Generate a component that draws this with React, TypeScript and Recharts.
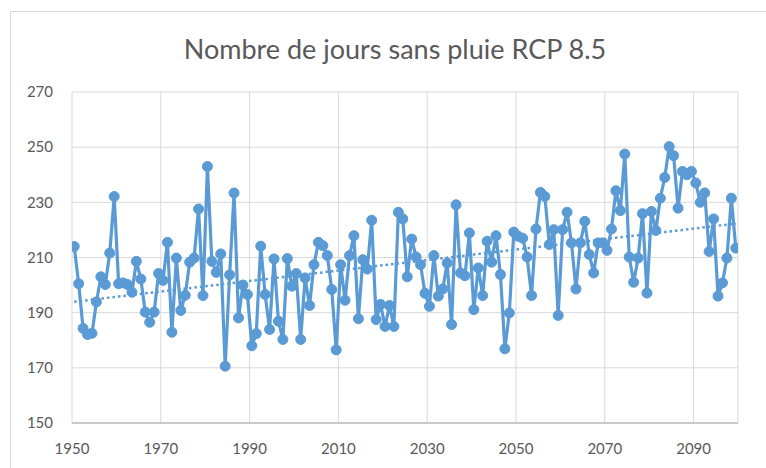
import { LineChart, Line, XAxis, YAxis, CartesianGrid } from "recharts";

// années 1950 -> 2099
const firstYear = 1950;

// nombre de jours sans pluie
const days = [
  214, 200.5, 184.3, 182.1, 182.5, 193.9, 203, 200.2, 211.6, 232.1,
  200.5, 200.8, 200.2, 197.4, 208.6, 202.2, 190.2, 186.5, 190.2, 204.2,
  201.7, 215.5, 182.9, 209.8, 190.8, 196.3, 208.3, 209.8, 227.6, 196.2,
  243, 208.6, 204.6, 211.3, 170.6, 203.7, 233.4, 188.1, 200, 196.6,
  178, 182.4, 214.1, 196.6, 183.9, 209.5, 186.9, 180.3, 209.6, 199.6,
  204.2, 180.3, 202.6, 192.6, 207.4, 215.5, 214.3, 210.7, 198.4, 176.5,
  207.4, 194.5, 210.7, 217.9, 187.8, 209.2, 205.8, 223.5, 187.5, 193,
  185, 192.6, 185, 226.4, 224, 203, 216.7, 210.2, 207.4, 197,
  192.3, 210.7, 196, 198.6, 208, 185.7, 229.1, 204.4, 203.4, 218.9,
  191.1, 206.2, 196.2, 215.9, 208.3, 217.9, 203.8, 176.9, 189.9, 219.2,
  217.7, 217, 210.2, 196.2, 220.3, 233.6, 232.1, 214.7, 220.1, 189,
  220.1, 226.4, 215.3, 198.6, 215.3, 223.1, 211.1, 204.4, 215.3, 215.3,
  212.6, 220.3, 234.2, 227, 247.5, 210.2, 201, 209.8, 225.9, 197.1,
  226.7, 219.8, 231.5, 239, 250.2, 246.9, 227.9, 241.2, 240, 241.2,
  237, 230, 233.4, 212.2, 224, 196, 200.8, 209.8, 231.5, 213.4,
];

const yearTicks = [1950, 1970, 1990, 2010, 2030, 2050, 2070, 2090];
const valueTicks = [150, 170, 190, 210, 230, 250, 270];

const years = days.map((_, i) => firstYear + i);

// tendance linéaire (moindres carrés), comme la courbe de tendance d'Excel
const n = days.length;
const mx = years.reduce((a, b) => a + b, 0) / n;
const my = days.reduce((a, b) => a + b, 0) / n;
let sxy = 0;
let sxx = 0;
years.forEach((x, i) => {
  sxy += (x - mx) * (days[i] - my);
  sxx += (x - mx) * (x - mx);
});
const slope = sxy / sxx;

const data = years.map((year, i) => ({
  year,
  days: days[i],
  trend: my + slope * (year - mx),
}));

const font = "Lato, 'Open Sans', sans-serif";
const blue = "#5B9BD5";
const grey = "#595959";

export default function App() {
  return (
    <div
      style={{
        position: "absolute",
        left: 0,
        top: 0,
        width: 766,
        height: 468,
        background: "#fff",
        overflow: "hidden",
        fontFamily: font,
      }}
    >
      <div
        style={{
          position: "absolute",
          left: 10,
          top: 11,
          width: 800,
          height: 500,
          border: "1px solid #d9d9d9",
        }}
      />
      <div
        style={{
          position: "absolute",
          left: 0,
          width: 790,
          top: 31,
          textAlign: "center",
          fontSize: 27,
          color: grey,
          lineHeight: "36px",
        }}
      >
        Nombre de jours sans pluie RCP 8.5
      </div>
      <LineChart
        width={766}
        height={468}
        data={data}
        margin={{ top: 92, right: 28, left: 0, bottom: 0 }}
        style={{ position: "absolute", left: 0, top: 0 }}
      >
        <CartesianGrid stroke="#d9d9d9" strokeWidth={1} />
        <XAxis
          dataKey="year"
          type="number"
          domain={[1949.5, 2099.5]}
          ticks={yearTicks.map((y) => y - 0.5)}
          tickFormatter={(v: number) => String(v + 0.5)}
          height={45}
          tickLine={false}
          tickSize={0}
          tickMargin={20}
          axisLine={{ stroke: "#bfbfbf", strokeWidth: 1.5 }}
          tick={{ fill: grey, fontSize: 15, fontFamily: font }}
          allowDataOverflow
        />
        <YAxis
          type="number"
          domain={[150, 270]}
          ticks={valueTicks}
          width={72}
          tickLine={false}
          tickSize={0}
          tickMargin={19}
          axisLine={false}
          tick={{ fill: grey, fontSize: 15, fontFamily: font }}
        />
        <Line
          type="linear"
          dataKey="days"
          stroke={blue}
          strokeWidth={3.2}
          dot={{ r: 5, fill: blue, stroke: blue, strokeWidth: 1 }}
          activeDot={false}
          isAnimationActive={false}
        />
        <Line
          type="linear"
          dataKey="trend"
          stroke={blue}
          strokeWidth={2.5}
          strokeDasharray="2.5 3"
          dot={false}
          activeDot={false}
          isAnimationActive={false}
        />
      </LineChart>
    </div>
  );
}
